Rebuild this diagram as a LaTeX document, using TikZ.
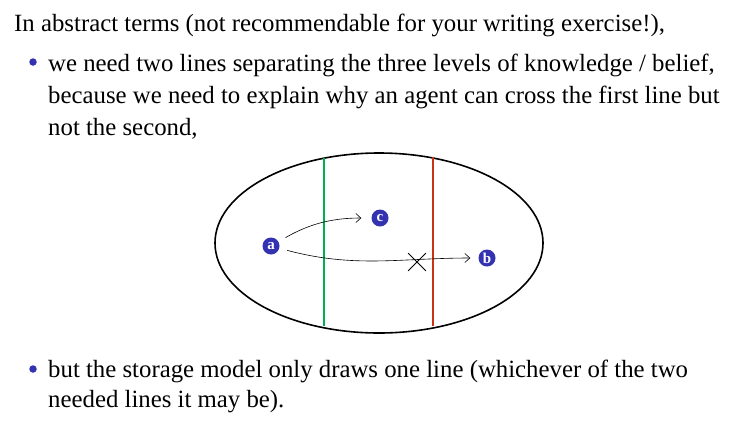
\documentclass[tikz,border=0pt]{standalone}
\usepackage{fontspec}
\setmainfont{Liberation Serif}
\usetikzlibrary{arrows.meta,shapes.misc,shapes.geometric}
\definecolor{struct}{HTML}{3333B2}
\definecolor{kgreen}{HTML}{00B050}
\definecolor{kred}{HTML}{CC3311}
\begin{document}
\begin{tikzpicture}[x=1pt,y=-1pt,
  txt/.style={anchor=base west,inner sep=0pt,font=\fontsize{24.8}{32}\selectfont},
  bul/.style={circle,fill=struct,inner sep=0pt,minimum size=7.5pt},
  ball/.style={circle,fill=struct,text=white,inner sep=0pt,minimum size=17pt,font=\fontsize{15}{15}\selectfont\bfseries},
  arr/.style={semithick,-{Straight Barb[length=5pt,width=9pt]}},
  sep/.style={line width=1.8pt}]
\useasboundingbox (0,0) rectangle (744,445);
\node[txt] (t1) at (14,31) {In abstract terms (not recommendable for your writing exercise!),};
\node[bul] (b1) at (33,62) {};
\node[txt] (t2) at (48,71) {we need two lines separating the three levels of knowledge / belief,};
\node[txt] (t3) at (48,103) {because we need to explain why an agent can cross the first line but};
\node[txt] (t4) at (48,135) {not the second,};
\node[bul] (b2) at (33,369) {};
\node[txt] (t5) at (48,377) {but the storage model only draws one line (whichever of the two};
\node[txt] (t6) at (48,407) {needed lines it may be).};
\node[draw,line width=1.6pt,ellipse,minimum width=328pt,minimum height=180pt,inner sep=0pt] (E) at (379,243) {};
\coordinate (g1) at (324,158); \coordinate (g2) at (324,326);
\coordinate (r1) at (433,157); \coordinate (r2) at (433,326);
\draw[sep,kgreen] (g1) -- (g2);
\draw[sep,kred] (r1) -- (r2);
\node[ball] (a) at (271,246) {a};
\node[ball] (c) at (380,218) {c};
\node[ball] (b) at (487,258) {b};
\draw[arr,shorten <=8pt,shorten >=10pt] (a) to[out=30,in=180] (c);
\draw[arr,shorten <=8pt,shorten >=8pt] (a) to[out=-15,in=180] (b);
\node[cross out,draw,thick,minimum size=17pt,inner sep=0pt] (x) at (417,262) {};
\end{tikzpicture}
\end{document}
